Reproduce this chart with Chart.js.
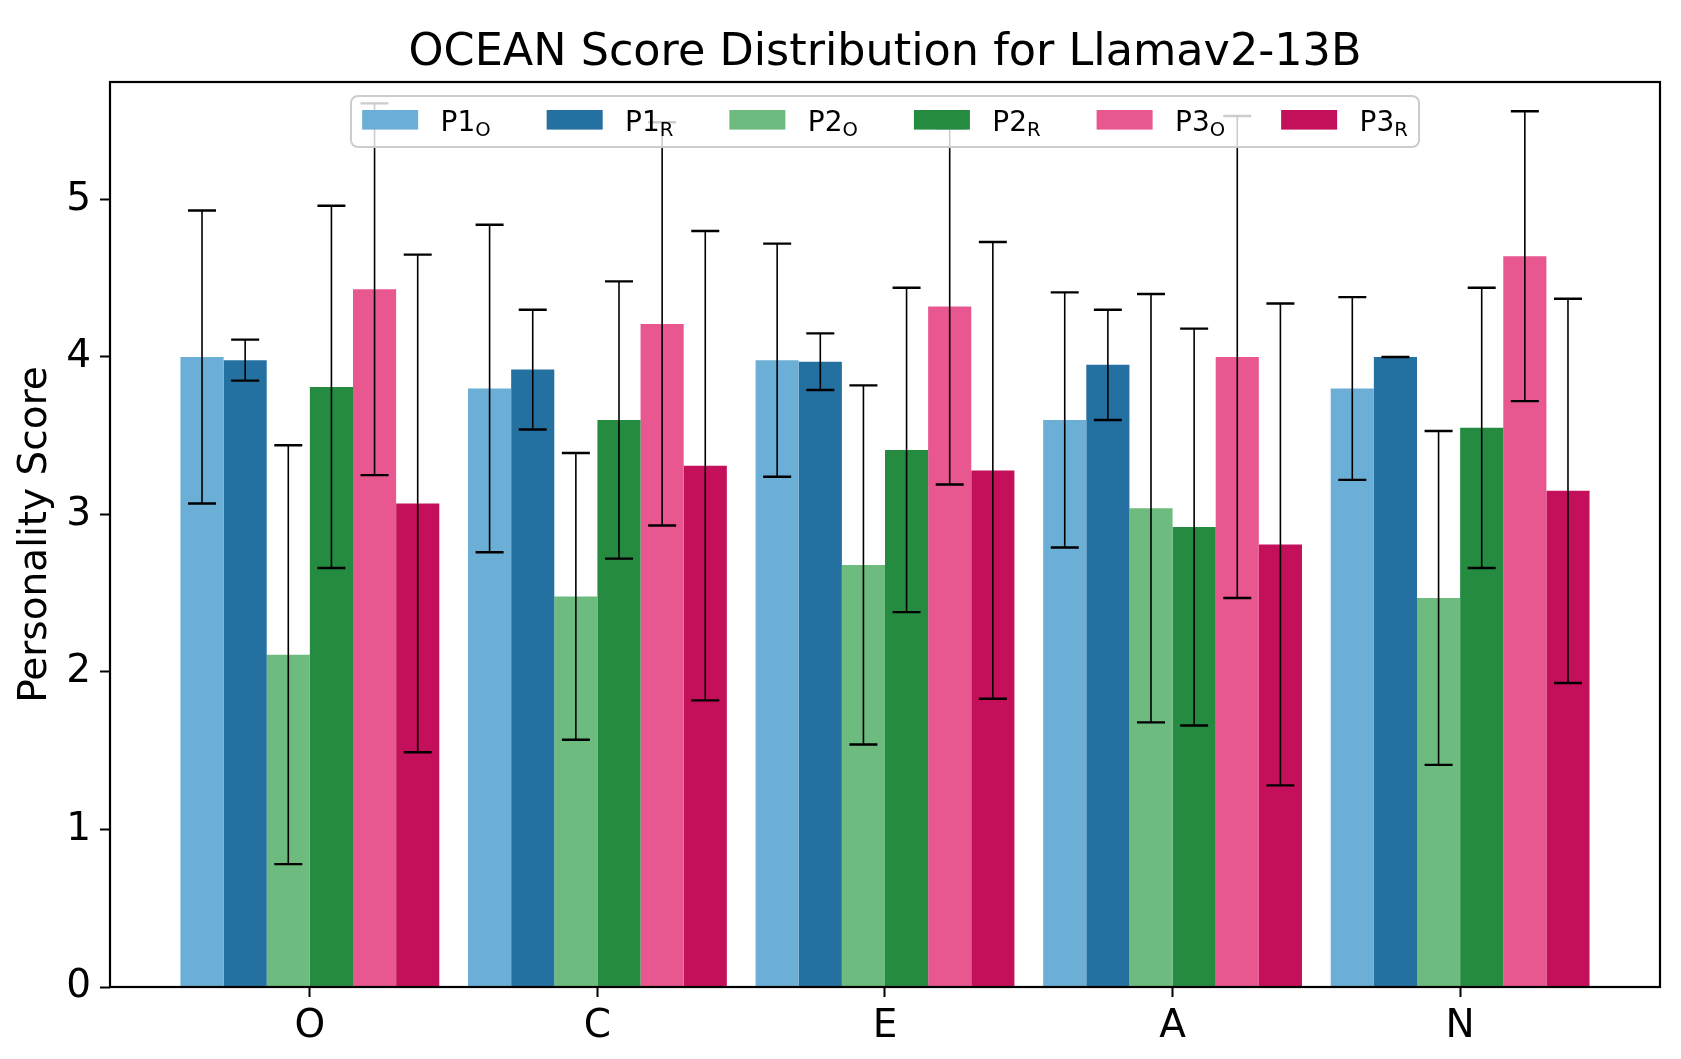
<!DOCTYPE html>
<html>
<head>
<meta charset="utf-8">
<title>OCEAN Score Distribution</title>
<script src="https://cdn.jsdelivr.net/npm/chart.js@4.4.1/dist/chart.umd.min.js"></script>
<style>
    html, body { margin: 0; padding: 0; background: #ffffff; }
    canvas { display: block; }
</style>
</head>
<body>
<canvas id="graficaOcean" width="1681" height="1059"></canvas>
<script>
// traits on the x axis
var categorias = ["O", "C", "E", "A", "N"];

// legend text: base + subscript
var nombresSerie = ["P1", "P1", "P2", "P2", "P3", "P3"];
var subSerie = ["O", "R", "O", "R", "O", "R"];
var coloresSerie = ["#6baed6", "#2470a0", "#6dbb7e", "#248b40", "#e8578f", "#c4105a"];

var titulo = "OCEAN Score Distribution for Llamav2-13B";

// mean scores per trait
var mediaP1O = [4.00, 3.80, 3.98, 3.60, 3.80];
var mediaP1R = [3.98, 3.92, 3.97, 3.95, 4.00];
var mediaP2O = [2.11, 2.48, 2.68, 3.04, 2.47];
var mediaP2R = [3.81, 3.60, 3.41, 2.92, 3.55];
var mediaP3O = [4.43, 4.21, 4.32, 4.00, 4.64];
var mediaP3R = [3.07, 3.31, 3.28, 2.81, 3.15];

// standard deviations (error bars)
var desvP1O = [0.93, 1.04, 0.74, 0.81, 0.58];
var desvP1R = [0.13, 0.38, 0.18, 0.35, 0.00];
var desvP2O = [1.33, 0.91, 1.14, 1.36, 1.06];
var desvP2R = [1.15, 0.88, 1.03, 1.26, 0.89];
var desvP3O = [1.18, 1.28, 1.13, 1.53, 0.92];
var desvP3R = [1.58, 1.49, 1.45, 1.53, 1.22];

var yTicks = [0, 1, 2, 3, 4, 5];

var medias = [mediaP1O, mediaP1R, mediaP2O, mediaP2R, mediaP3O, mediaP3R];
var desvios = [desvP1O, desvP1R, desvP2O, desvP2R, desvP3O, desvP3R];

var fuente = "'DejaVu Sans', 'Liberation Sans', sans-serif";

var datasets = medias.map(function (serie, d) {
    return {
        label: nombresSerie[d] + subSerie[d],
        data: serie.map(function (v, i) { return { x: i, y: v }; }),
        backgroundColor: coloresSerie[d],
        borderWidth: 0,
        categoryPercentage: 0.9,
        barPercentage: 1.0
    };
});

// error bars with caps, drawn from the bar elements
const barrasError = {
    id: "barrasError",
    afterDatasetsDraw(chart) {
        const ctx = chart.ctx;
        const y = chart.scales.y;
        ctx.save();
        ctx.strokeStyle = "#000000";
        desvios.forEach(function (serie, d) {
            const meta = chart.getDatasetMeta(d);
            meta.data.forEach(function (bar, i) {
                const m = medias[d][i];
                const top = y.getPixelForValue(m + serie[i]);
                const bot = y.getPixelForValue(m - serie[i]);
                ctx.lineWidth = 1.6;
                ctx.beginPath();
                ctx.moveTo(bar.x, top);
                ctx.lineTo(bar.x, bot);
                ctx.stroke();
                ctx.lineWidth = 2.4;
                ctx.beginPath();
                ctx.moveTo(bar.x - 14, top);
                ctx.lineTo(bar.x + 14, top);
                ctx.moveTo(bar.x - 14, bot);
                ctx.lineTo(bar.x + 14, bot);
                ctx.stroke();
            });
        });
        ctx.restore();
    }
};

// box around the plot area + title centred over it
const marco = {
    id: "marco",
    afterDatasetsDraw(chart) {
        const a = chart.chartArea;
        const ctx = chart.ctx;
        ctx.save();
        ctx.strokeStyle = "#000000";
        ctx.lineWidth = 2.2;
        ctx.strokeRect(a.left, a.top, a.right - a.left, a.bottom - a.top);
        ctx.fillStyle = "#000000";
        ctx.font = "44.5px " + fuente;
        ctx.textAlign = "center";
        ctx.textBaseline = "alphabetic";
        ctx.fillText(titulo, (a.left + a.right) / 2, 65);
        ctx.restore();
    }
};

// legend with subscripts, upper center, 6 columns
const leyenda = {
    id: "leyenda",
    afterDatasetsDraw(chart) {
        const ctx = chart.ctx;
        const a = chart.chartArea;
        const fs = 28;
        const fsSub = fs * 0.7;
        ctx.save();
        var anchos = nombresSerie.map(function (n, d) {
            ctx.font = fs + "px " + fuente;
            var w = ctx.measureText(n).width;
            ctx.font = fsSub + "px " + fuente;
            return w + ctx.measureText(subSerie[d]).width;
        });
        var total = 2 * 0.4 * fs + 6 * (2 * fs + 0.8 * fs) + 5 * 2 * fs;
        anchos.forEach(function (w) { total += w; });
        var left = (a.left + a.right) / 2 - total / 2;
        var top = a.top + 0.5 * fs;
        var alto = 51;

        ctx.beginPath();
        ctx.roundRect(left, top, total, alto, 7);
        ctx.fillStyle = "rgba(255,255,255,0.8)";
        ctx.fill();
        ctx.lineWidth = 2;
        ctx.strokeStyle = "#cccccc";
        ctx.stroke();

        var x = left + 0.4 * fs;
        var base = top + 35;
        nombresSerie.forEach(function (n, d) {
            ctx.fillStyle = coloresSerie[d];
            ctx.fillRect(x, top + 14, 2 * fs, 0.7 * fs);
            var tx = x + 2.8 * fs;
            ctx.fillStyle = "#000000";
            ctx.textBaseline = "alphabetic";
            ctx.font = fs + "px " + fuente;
            ctx.fillText(n, tx, base);
            var wn = ctx.measureText(n).width;
            ctx.font = fsSub + "px " + fuente;
            ctx.fillText(subSerie[d], tx + wn, base + 5);
            x = tx + anchos[d] + 2 * fs;
        });
        ctx.restore();
    }
};

new Chart(document.getElementById("graficaOcean"), {
    type: "bar",
    data: { datasets: datasets },
    options: {
        responsive: false,
        animation: false,
        devicePixelRatio: 1,
        layout: { padding: { left: 0, right: 21, top: 82, bottom: 0 } },
        plugins: {
            legend: { display: false },
            tooltip: { enabled: false },
            title: { display: false }
        },
        scales: {
            x: {
                type: "linear",
                min: -0.695,
                max: 4.695,
                offset: false,
                grid: { offset: false, drawOnChartArea: false, tickLength: 10, tickColor: "#000000", tickWidth: 2 },
                border: { display: false },
                afterBuildTicks: function (s) {
                    s.ticks = categorias.map(function (c, i) { return { value: i }; });
                },
                afterFit: function (s) { s.height = 72; },
                ticks: {
                    color: "#000000",
                    padding: 6,
                    font: { family: fuente, size: 39 },
                    callback: function (v) { return categorias[v]; }
                }
            },
            y: {
                min: 0,
                max: 5.746,
                grid: { drawOnChartArea: false, tickLength: 10, tickColor: "#000000", tickWidth: 2 },
                border: { display: false },
                afterBuildTicks: function (s) {
                    s.ticks = yTicks.map(function (v) { return { value: v }; });
                },
                afterFit: function (s) { s.width = 110; },
                ticks: {
                    color: "#000000",
                    padding: 9,
                    font: { family: fuente, size: 39 }
                },
                title: {
                    display: true,
                    text: "Personality Score",
                    color: "#000000",
                    font: { family: fuente, size: 39 },
                    padding: { top: 12, bottom: 0 }
                }
            }
        }
    },
    plugins: [barrasError, marco, leyenda]
});
</script>
</body>
</html>
